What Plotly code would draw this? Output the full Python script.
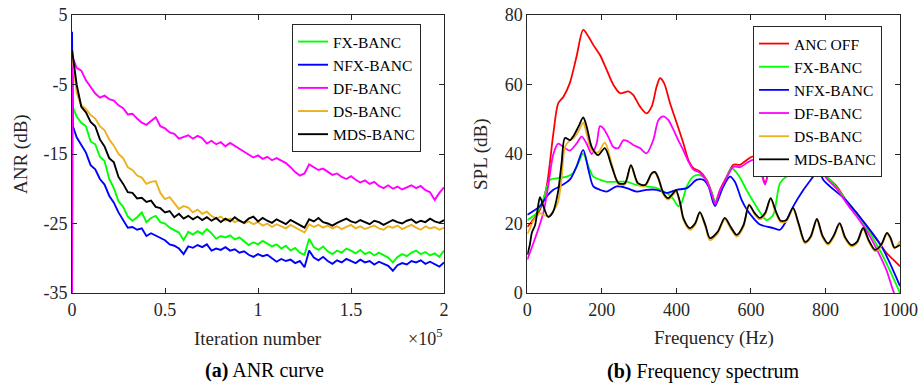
import plotly.graph_objects as go

# ---------------- (a) ANR curve data ----------------
ITER = [0, 500] + [2500 * k for k in range(1, 81)]

ANR_FX = [-7.0, -8.3,
          -9.6, -10.5, -11.0, -13.2, -13.6, -15.4, -16.0, -18.6, -19.9, -21.8,
          -22.6, -24.0, -24.6, -24.1, -23.4, -24.8, -24.2, -23.9, -24.8, -25.0,
          -25.6, -25.9, -26.3, -27.4, -26.2, -26.6, -26.1, -26.5, -25.8, -26.4,
          -27.2, -26.8, -27.0, -26.7, -27.3, -27.0, -27.6, -28.1, -27.7, -28.0,
          -27.5, -27.9, -28.3, -28.0, -28.6, -28.2, -28.9, -28.5, -29.2, -29.5,
          -27.2, -28.4, -28.8, -28.3, -29.0, -29.4, -28.9, -29.2, -28.6, -28.9,
          -29.3, -28.8, -29.4, -29.1, -29.6, -29.2, -29.5, -29.9, -30.6, -29.8,
          -29.4, -29.7, -29.2, -28.9, -29.4, -29.1, -29.6, -29.3, -29.8, -28.9]

ANR_NFX = [2.6, -11.0,
           -12.6, -13.8, -14.8, -16.6, -17.2, -18.6, -19.4, -21.0, -22.0, -23.4,
           -24.6, -25.6, -25.5, -25.9, -25.7, -26.8, -26.4, -26.7, -27.0, -27.4,
           -28.0, -28.2, -28.6, -29.4, -28.3, -28.5, -28.1, -28.4, -28.0, -28.9,
           -28.6, -28.8, -28.4, -28.9, -28.7, -29.2, -29.0, -29.5, -29.8, -29.4,
           -29.7, -29.5, -30.0, -30.5, -30.1, -30.4, -30.2, -30.7, -30.4, -31.3,
           -28.9, -29.9, -30.3, -29.8, -30.4, -30.8, -30.3, -30.6, -30.1, -30.4,
           -30.7, -30.2, -30.6, -30.4, -30.9, -30.5, -30.8, -31.1, -31.8, -31.0,
           -30.7, -30.9, -30.4, -30.6, -30.3, -30.8, -30.5, -30.9, -31.2, -30.6]

ANR_DF = [-36.0, -1.2,
          -2.6, -3.0, -4.4, -5.3, -6.3, -6.9, -6.6, -7.1, -7.3, -8.0,
          -8.4, -9.3, -9.2, -9.9, -10.5, -10.8, -10.2, -9.7, -11.0, -11.3,
          -11.9, -12.1, -12.8, -12.6, -12.3, -12.8, -12.4, -12.7, -13.5, -13.1,
          -13.6, -13.3, -13.9, -13.4, -13.8, -14.3, -14.7, -15.0, -15.5, -15.2,
          -15.7, -15.4, -15.9, -15.6, -16.0, -16.3, -16.9, -17.6, -18.1, -17.8,
          -16.5, -16.9, -17.3, -17.1, -17.6, -18.0, -17.8, -18.3, -18.6, -18.2,
          -18.7, -19.1, -18.8, -19.3, -19.0, -19.6, -19.9, -19.5, -20.0, -19.7,
          -20.1, -19.8, -19.5, -19.9, -19.6, -20.2, -20.5, -21.6, -20.6, -19.8]

ANR_DS = [0.0, -1.5,
          -6.2, -8.0, -8.5, -9.4, -9.9, -11.0, -11.6, -12.9, -13.8, -15.0,
          -15.6, -16.9, -17.3, -18.1, -18.4, -19.3, -19.0, -18.9, -20.6, -21.5,
          -21.2, -22.0, -22.9, -22.5, -22.7, -23.4, -23.0, -23.6, -23.3, -23.9,
          -24.3, -24.0, -24.6, -24.3, -24.8, -24.5, -25.0, -24.7, -25.1, -24.8,
          -25.3, -25.0, -25.5, -25.1, -25.4, -25.7, -25.2, -25.6, -26.0, -26.3,
          -25.1, -25.5, -25.2, -25.6, -25.3, -25.7, -25.4, -25.8, -25.5, -25.2,
          -25.7, -25.4, -25.8, -25.5, -25.3, -25.7, -25.9, -25.4, -25.6, -25.3,
          -25.8, -25.5, -25.2, -25.6, -25.9, -25.4, -25.7, -25.5, -25.9, -25.6]

ANR_MDS = [0.0, -1.0,
           -5.0, -8.2, -9.0, -10.4, -11.0, -12.9, -13.9, -15.6, -16.2, -18.3,
           -19.3, -20.5, -20.6, -21.4, -21.3, -21.9, -21.7, -22.6, -22.8, -23.4,
           -23.2, -24.1, -23.6, -24.3, -23.9, -24.4, -24.0, -24.5, -24.1, -24.6,
           -24.2, -24.8, -24.3, -24.7, -24.1, -24.6, -24.9, -24.3, -24.0, -24.7,
           -24.2, -24.6, -24.9, -24.4, -24.8, -25.1, -24.5, -24.9, -25.2, -25.6,
           -24.4, -24.7, -24.2, -24.8, -25.0, -25.3, -24.9, -24.6, -24.3, -24.7,
           -24.9, -24.5, -24.8, -25.1, -24.6, -24.8, -25.2, -24.9, -24.5, -24.8,
           -25.0, -24.6, -24.4, -24.9, -24.6, -24.8, -24.3, -24.7, -24.9, -24.5]

ANR_TICKS = [-35, -25, -15, -5, 5]
ANR_TICKTEXT = ["-35", "-25", "-15", "-5", "5"]
ITER_TICKS = [0, 50000, 100000, 150000, 200000]
ITER_TICKTEXT = ["0", "0.5", "1", "1.5", "2"]

# ---------------- (b) Frequency spectrum data ----------------
F_OFF = [0, 34, 52, 70, 83, 97, 114, 132, 150, 164,
         177, 195, 213, 231, 249, 271, 284, 302, 320, 334,
         347, 356, 367, 383, 401, 419, 432, 445, 463, 481,
         495, 504, 517, 535, 553, 571, 589, 606, 620, 629,
         638, 647, 656, 670, 690, 705, 718, 732, 750, 767,
         785, 803, 830, 857, 884, 911, 938, 964, 982, 1000]
SPL_OFF = [19, 24, 30.7, 46, 54.6, 56.5, 60.4, 68, 75.7, 73.8,
           71.4, 68.5, 64.2, 59.9, 57.5, 58, 57, 53.7, 51.7, 53.7,
           59.4, 61.8, 60.4, 54.6, 48.9, 43, 38.3, 36, 35, 32.6,
           28.8, 26, 29.7, 33.5, 36.9, 36.9, 38.3, 39.3, 38.3, 34.5,
           31.6, 35.5, 42, 46, 45, 41, 38.8, 37.6, 37.6, 36.4,
           35.5, 33.5, 30.7, 26.4, 23, 19.2, 15.3, 11.5, 9.6, 7.7]

F_FX = [0, 25, 43, 61, 79, 106, 123, 137, 150, 164,
        177, 195, 213, 240, 267, 293, 320, 347, 374, 392,
        405, 414, 428, 445, 459, 477, 495, 504, 526, 548,
        566, 589, 611, 629, 642, 660, 678, 696, 723, 750,
        767, 785, 812, 850, 900, 950, 1000]
SPL_FX = [21, 23, 27, 32.6, 33, 33.5, 34.5, 37.4, 40.2, 36.4,
          33.5, 32.6, 32, 32, 32, 31.1, 30.7, 30.2, 28.8, 27,
          25, 26, 30.7, 33.5, 34, 33, 28.8, 26.4, 30.7, 35.9,
          34, 29.5, 25.5, 22.5, 21, 22.5, 31.6, 33.5, 34.5, 36.4,
          36.4, 35.5, 32.6, 27.5, 20.5, 11.5, 0]

F_NFX = [0, 34, 52, 70, 88, 114, 132, 150, 164, 177,
         195, 213, 240, 267, 293, 320, 347, 374, 401, 428,
         455, 472, 486, 499, 504, 526, 544, 557, 575, 589,
         606, 624, 660, 678, 696, 714, 741, 767, 781, 794,
         812, 850, 900, 950, 1000]
SPL_NFX = [22.5, 25, 27.8, 29.7, 30.7, 32.6, 36.4, 41.2, 35.5, 30.7,
           29.7, 29.2, 30.7, 30.2, 29.2, 29.7, 29.7, 28.8, 29.7, 30.2,
           32.6, 32.6, 30.7, 26, 25, 30.7, 33.5, 32, 26.8, 24,
           21.6, 19.7, 18.7, 18.2, 21, 25, 29.7, 33.5, 35.5, 32.6,
           30.7, 27.2, 20.8, 13.5, 2]

F_DF = [0, 25, 43, 56, 70, 83, 97, 114, 132, 146,
        159, 173, 186, 195, 204, 217, 231, 244, 258, 271,
        284, 302, 320, 338, 352, 365, 378, 392, 405, 419,
        432, 445, 463, 481, 495, 504, 517, 535, 553, 571,
        589, 606, 620, 629, 638, 647, 656, 670, 690, 705,
        718, 732, 750, 767, 785, 803, 830, 857, 884, 911,
        938, 964, 984, 1000]
SPL_DF = [9.6, 17, 23, 30.7, 40, 43, 42, 41, 43, 45,
          43, 40, 43, 48, 47.4, 45, 42, 41.7, 44, 43.6,
          42.6, 41.7, 40.2, 44, 49.8, 50.8, 49.8, 47, 44, 41,
          37.9, 35.6, 34.6, 32.2, 28.4, 25.6, 29.4, 33.2, 36.3, 36.2,
          37.4, 38.3, 37.0, 34, 31.2, 35, 41.5, 45.5, 44.5, 41.5,
          38.6, 37.0, 37.4, 36.0, 35.8, 33.0, 30.0, 25.8, 22.0, 17.8,
          12.5, 6.5, 0, -3]

F_MDS = [0, 7, 12, 21, 29, 34, 43, 56, 69, 82,
         92, 101, 115, 124, 137, 150, 159, 173, 190, 208,
         227, 245, 262, 278, 297, 316, 334, 343, 352, 365,
         378, 392, 399, 410, 419, 436, 450, 463, 478, 490,
         510, 530, 546, 562, 580, 595, 610, 624, 638, 653,
         667, 680, 695, 713, 728, 745, 760, 777, 792, 807,
         822, 838, 853, 870, 885, 901, 917, 933, 949, 965,
         975, 985, 1000]
SPL_DS = [17, 18.5, 20, 21.5, 22.5, 23, 22.5, 22, 23.5, 26,
          33, 42, 44, 44.5, 46.5, 49, 46, 41, 40.5, 43.3,
          37, 31.2, 31.3, 36.5, 31.2, 30.7, 34.2, 34.5, 32.6, 28.4,
          26.9, 28.4, 29.2, 25.6, 21, 18.2, 19.6, 23, 19, 15.2,
          17, 21.2, 18.5, 16.2, 19, 25.6, 22.6, 21.2, 22.6, 27,
          23, 20.4, 20.6, 24.2, 19.5, 14.3, 15.8, 21, 16, 13.9,
          16, 19.8, 15.6, 13.4, 14.4, 18.4, 14.6, 12, 13.4, 17,
          15.4, 12.8, 15]
SPL_MDS = [11, 14, 17.3, 19.6, 25, 27.6, 25, 21.9, 23.3, 28.8,
           37.4, 44.6, 44, 45.2, 47.8, 50.5, 48, 42, 39.7, 41.7,
           36.3, 31.6, 31.6, 36.8, 31.6, 31.1, 34.5, 34.8, 33, 28.8,
           27.3, 28.8, 29.6, 26, 21.5, 18.7, 20, 23.3, 19.5, 15.8,
           17.5, 21.6, 19, 16.7, 19.5, 25.3, 23, 21.6, 23, 27.3,
           23.5, 20.8, 21, 24.5, 20, 14.7, 16.2, 21.3, 16.5, 14.3,
           16.5, 20.1, 16, 13.8, 14.8, 18.7, 15, 12.4, 13.8, 17.3,
           15.8, 13.1, 13.8]

# ---------------- styling ----------------
RED, GREEN, BLUE, MAGENTA, ORANGE, BLACK = (
    "#FF0000", "#00FF00", "#0000FF", "#FF00FF", "#EDB120", "#000000")
FONT = "Liberation Serif, Times New Roman, serif"
AX = "#262626"
W, H = 921, 386


def px(x):
    return x / W


def py(y):
    return 1 - y / H


fig = go.Figure()

left = [("FX-BANC", ANR_FX, GREEN), ("NFX-BANC", ANR_NFX, BLUE),
        ("DF-BANC", ANR_DF, MAGENTA), ("DS-BANC", ANR_DS, ORANGE),
        ("MDS-BANC", ANR_MDS, BLACK)]
for name, vals, col in left:
    fig.add_trace(go.Scatter(x=ITER, y=vals, name=name, mode="lines",
                             line=dict(color=col, width=1.9),
                             xaxis="x", yaxis="y", legend="legend"))

right = [("ANC OFF", F_OFF, SPL_OFF, RED), ("FX-BANC", F_FX, SPL_FX, GREEN),
         ("NFX-BANC", F_NFX, SPL_NFX, BLUE), ("DF-BANC", F_DF, SPL_DF, MAGENTA),
         ("DS-BANC", F_MDS, SPL_DS, ORANGE), ("MDS-BANC", F_MDS, SPL_MDS, BLACK)]
for name, fx, vals, col in right:
    fig.add_trace(go.Scatter(x=fx, y=vals, name=name, mode="lines",
                             line=dict(color=col, width=1.8, shape="spline",
                                       smoothing=0.8),
                             xaxis="x2", yaxis="y2", legend="legend2"))

axis_common = dict(showgrid=False, zeroline=False, showline=True,
                   linecolor=AX, linewidth=1, mirror="ticks",
                   ticks="inside", ticklen=5, tickcolor=AX, tickwidth=1,
                   automargin=False,
                   tickfont=dict(family=FONT, size=18, color=AX))

legend_common = dict(xanchor="left", yanchor="top", bgcolor="white",
                     bordercolor=AX, borderwidth=1, tracegroupgap=0,
                     itemwidth=30,
                     font=dict(family=FONT, size=15.5, color="black"))

fig.update_layout(
    width=W, height=H,
    margin=dict(l=0, r=0, t=0, b=0, autoexpand=False),
    paper_bgcolor="white", plot_bgcolor="white",
    showlegend=True,
    xaxis=dict(domain=[px(72), px(444)], range=[0, 200000],
               tickvals=ITER_TICKS, ticktext=ITER_TICKTEXT,
               anchor="y", **axis_common),
    yaxis=dict(domain=[py(293), py(15)], range=[-35, 5],
               tickvals=ANR_TICKS, ticktext=ANR_TICKTEXT,
               anchor="x", **axis_common),
    xaxis2=dict(domain=[px(527.3), px(900)], range=[0, 1000],
                tickvals=[0, 200, 400, 600, 800, 1000],
                anchor="y2", **axis_common),
    yaxis2=dict(domain=[py(293), py(15)], range=[0, 80],
                tickvals=[0, 20, 40, 60, 80],
                anchor="x2", **axis_common),
    legend=dict(x=px(292), y=py(24), **legend_common),
    legend2=dict(x=px(753), y=py(26), **legend_common),
)

ann_font = dict(family=FONT, size=19, color=AX)
annotations = [
    dict(text="ANR (dB)", x=px(21), y=py(154), textangle=-90),
    dict(text="SPL (dB)", x=px(481), y=py(154), textangle=-90),
    dict(text="Iteration number", x=px(258), y=py(338)),
    dict(text="Frequency (Hz)", x=px(713.6), y=py(338)),
]
for a in annotations:
    fig.add_annotation(xref="paper", yref="paper", showarrow=False,
                       xanchor="center", yanchor="middle", font=ann_font, **a)

fig.add_annotation(xref="paper", yref="paper", showarrow=False,
                   text="×10<sup>5</sup>", x=px(444), y=py(337),
                   xanchor="right", yanchor="middle",
                   font=dict(family=FONT, size=18, color=AX))

title_font = dict(family=FONT, size=20, color="black")
fig.add_annotation(xref="paper", yref="paper", showarrow=False,
                   text="<b>(a)</b> ANR curve", x=px(264), y=py(370),
                   xanchor="center", yanchor="middle", font=title_font)
fig.add_annotation(xref="paper", yref="paper", showarrow=False,
                   text="<b>(b)</b> Frequency spectrum", x=px(703), y=py(371),
                   xanchor="center", yanchor="middle", font=title_font)

fig.write_html("out.html")
